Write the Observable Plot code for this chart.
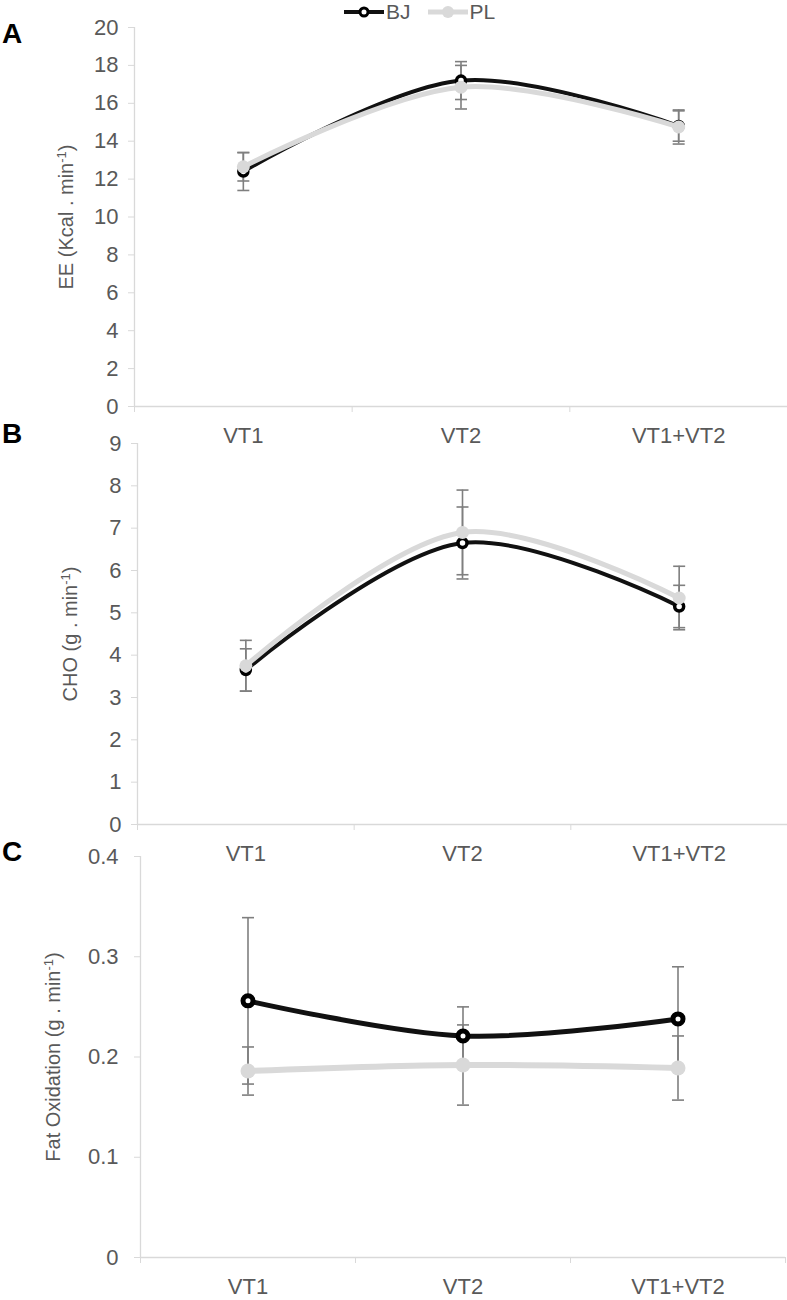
<!DOCTYPE html>
<html>
<head>
<meta charset="utf-8">
<script src="https://cdn.jsdelivr.net/npm/d3@7"></script>
<script src="https://cdn.jsdelivr.net/npm/@observablehq/plot@0.6"></script>
<style>
  body { margin: 0; background: #fff; font-family: "Liberation Sans", Arial, sans-serif; }
  #wrap { position: relative; width: 787px; height: 1300px; overflow: hidden; }
  .panel { position: absolute; left: 0; }
  .letter { position: absolute; left: 2px; font-weight: bold; font-size: 28px; color: #000; line-height: 1; }
  #legend { position: absolute; top: 1px; left: 343px; height: 22px; display: flex; align-items: center; font-size: 21px; line-height: 22px; color: #595959; }
  #legend .item { display: flex; align-items: center; margin-right: 16px; }
  #legend svg { margin-right: 1px; }
</style>
</head>
<body>
<div id="wrap">
  <div id="legend"></div>
</div>
<script>
// ---- data ----
const categories = ["VT1", "VT2", "VT1+VT2"];
const seriesNames = ["BJ", "PL"];

const eeBJ   = [12.4, 17.2, 14.8];
const eePL   = [12.65, 16.85, 14.75];
const eeBJsd = [1.0, 1.0, 0.8];
const eePLsd = [0.75, 1.15, 0.9];

const choBJ   = [3.65, 6.65, 5.15];
const choPL   = [3.75, 6.9, 5.35];
const choBJsd = [0.5, 0.85, 0.5];
const choPLsd = [0.6, 1.0, 0.75];

const fatBJ   = [0.256, 0.221, 0.238];
const fatPL   = [0.186, 0.192, 0.189];
const fatBJsd = [0.083, 0.029, 0.052];
const fatPLsd = [0.024, 0.040, 0.032];

const eeTicks  = [0, 2, 4, 6, 8, 10, 12, 14, 16, 18, 20];
const choTicks = [0, 1, 2, 3, 4, 5, 6, 7, 8, 9];
const fatTicks = [0, 0.1, 0.2, 0.3, 0.4];

// ---- helpers ----
const capSymbol = {
  draw(context, size) {
    const r = Math.sqrt(size / Math.PI);
    context.moveTo(-r, 0);
    context.lineTo(r, 0);
  }
};

const wrap = document.getElementById("wrap");

function addPanel(cfg) {
  const bjRows = categories.map((c, i) => ({x: i + 0.5, y: cfg.bj[i], lo: cfg.bj[i] - cfg.bjsd[i], hi: cfg.bj[i] + cfg.bjsd[i]}));
  const plRows = categories.map((c, i) => ({x: i + 0.5, y: cfg.pl[i], lo: cfg.pl[i] - cfg.plsd[i], hi: cfg.pl[i] + cfg.plsd[i]}));
  const errs = [...bjRows, ...plRows];
  const caps = errs.flatMap(d => [{x: d.x, y: d.lo}, {x: d.x, y: d.hi}]);
  const boundaries = d3.range(categories.length + 1);
  const centers = categories.map((c, i) => i + 0.5);

  const plot = Plot.plot({
    width: 787,
    height: cfg.height,
    marginTop: cfg.mt,
    marginBottom: cfg.mb,
    marginLeft: cfg.ml,
    marginRight: cfg.mr,
    style: {fontFamily: "'Liberation Sans', Arial, sans-serif", fontSize: "22px", color: "#595959", background: "transparent", overflow: "visible"},
    x: {domain: [0, categories.length], label: null, axis: null},
    y: {domain: cfg.domain, label: null, axis: null},
    marks: [
      Plot.axisY({ticks: cfg.ticks, tickFormat: cfg.fmt, tickSize: 6, tickPadding: cfg.tickPad, stroke: "#d9d9d9", fill: "#595959",
                  label: cfg.label, labelAnchor: "center", labelOffset: cfg.labelOffset, labelArrow: "none"}),
      Plot.axisX({ticks: boundaries, tickFormat: () => "", tickSize: 6, stroke: "#d9d9d9", label: null}),
      Plot.axisX({ticks: centers, tickFormat: d => categories[Math.floor(d)], tickSize: 0, tickPadding: 21, fill: "#595959", label: null}),
      Plot.ruleX([0], {stroke: "#d9d9d9", strokeWidth: 1.3}),
      Plot.ruleY([cfg.domain[0]], {stroke: "#d9d9d9", strokeWidth: 1.3}),
      Plot.ruleX(errs, {x: "x", y1: "lo", y2: "hi", stroke: "#7f7f7f", strokeWidth: 1.6}),
      Plot.dot(caps, {x: "x", y: "y", symbol: capSymbol, r: 6, stroke: "#7f7f7f", strokeWidth: 1.6, fill: "none"}),
      Plot.line(bjRows, {x: "x", y: "y", curve: "catmull-rom", stroke: "#111", strokeWidth: cfg.bjW}),
      Plot.dot(bjRows, {x: "x", y: "y", r: cfg.bjR, fill: "white", stroke: "#000", strokeWidth: cfg.bjSW}),
      Plot.line(plRows, {x: "x", y: "y", curve: "catmull-rom", stroke: "#d9d9d9", strokeWidth: cfg.plW}),
      Plot.dot(plRows, {x: "x", y: "y", r: cfg.plR, fill: "#d9d9d9"})
    ]
  });

  // superscript in axis label
  const lab = plot.querySelector('g[aria-label="y-axis label"] text');
  if (lab) {
    lab.textContent = "";
    lab.setAttribute("font-size", "20px");
    const ns = "http://www.w3.org/2000/svg";
    const t1 = document.createElementNS(ns, "tspan"); t1.textContent = cfg.labelMain;
    const t2 = document.createElementNS(ns, "tspan"); t2.textContent = "-1";
    t2.setAttribute("baseline-shift", "super"); t2.setAttribute("font-size", "13px");
    const t3 = document.createElementNS(ns, "tspan"); t3.textContent = ")";
    lab.append(t1, t2, t3);
  }

  const div = document.createElement("div");
  div.className = "panel";
  div.style.top = cfg.top + "px";
  div.appendChild(plot);
  wrap.appendChild(div);

  const letter = document.createElement("div");
  letter.className = "letter";
  letter.style.top = cfg.letterTop + "px";
  letter.textContent = cfg.letter;
  wrap.appendChild(letter);
}

addPanel({
  letter: "A", letterTop: 20, top: 16, height: 430, mt: 11, mb: 40, ml: 134, mr: 0, tickPad: 10,
  domain: [0, 20], ticks: eeTicks, fmt: d => String(d),
  label: "EE (Kcal . min-1)", labelMain: "EE (Kcal . min", labelOffset: 76,
  bj: eeBJ, pl: eePL, bjsd: eeBJsd, plsd: eePLsd,
  bjW: 4, bjR: 4.5, bjSW: 3.5, plW: 5, plR: 6.5
});

addPanel({
  letter: "B", letterTop: 420, top: 425, height: 445, mt: 18, mb: 46, ml: 137, mr: 0, tickPad: 10,
  domain: [0, 9], ticks: choTicks, fmt: d => String(d),
  label: "CHO (g . min-1)", labelMain: "CHO (g . min", labelOffset: 75,
  bj: choBJ, pl: choPL, bjsd: choBJsd, plsd: choPLsd,
  bjW: 4, bjR: 4.5, bjSW: 3.5, plW: 5, plR: 6.5
});

addPanel({
  letter: "C", letterTop: 838, top: 840, height: 458, mt: 16, mb: 41, ml: 140, mr: 2, tickPad: 16,
  domain: [0, 0.4], ticks: fatTicks, fmt: d => d === 0 ? "0" : d.toFixed(1),
  label: "Fat Oxidation (g . min-1)", labelMain: "Fat Oxidation (g . min", labelOffset: 95,
  bj: fatBJ, pl: fatPL, bjsd: fatBJsd, plsd: fatPLsd,
  bjW: 5, bjR: 5, bjSW: 5, plW: 6, plR: 7.5
});

// ---- legend ----
const legend = document.getElementById("legend");
const legendStyles = {
  BJ: `<line x1="1" y1="11" x2="41" y2="11" stroke="#111" stroke-width="4"/><circle cx="21" cy="11" r="4" fill="white" stroke="#000" stroke-width="3"/>`,
  PL: `<line x1="1" y1="11" x2="41" y2="11" stroke="#d9d9d9" stroke-width="5"/><circle cx="21" cy="11" r="6" fill="#d9d9d9"/>`
};
seriesNames.forEach(name => {
  const item = document.createElement("div");
  item.className = "item";
  item.innerHTML = `<svg width="42" height="22">${legendStyles[name]}</svg><span>${name}</span>`;
  legend.appendChild(item);
});
</script>
</body>
</html>
